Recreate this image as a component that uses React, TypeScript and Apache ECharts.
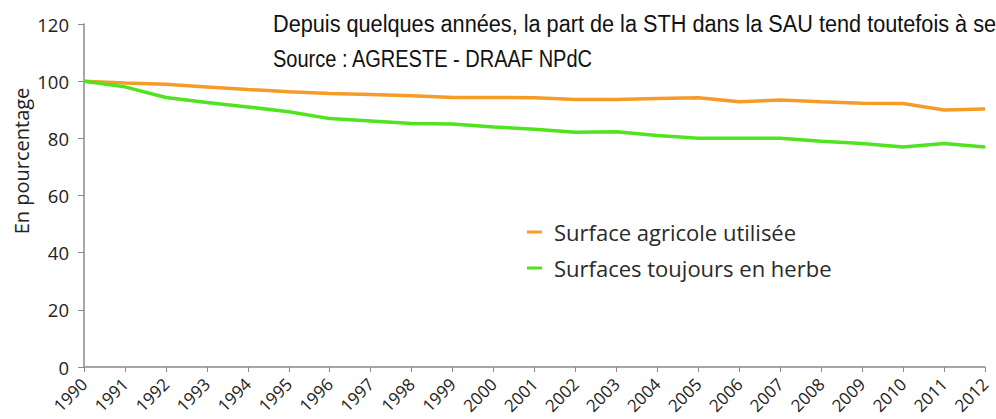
import React, { useEffect, useRef } from "react";
import * as echarts from "echarts";

const years = ["1990","1991","1992","1993","1994","1995","1996","1997","1998","1999","2000","2001","2002","2003","2004","2005","2006","2007","2008","2009","2010","2011","2012"];
const sauValues = [100, 99.4, 98.9, 98, 97.1, 96.3, 95.7, 95.3, 94.9, 94.3, 94.3, 94.2, 93.6, 93.6, 93.9, 94.2, 92.8, 93.4, 92.8, 92.3, 92.2, 89.9, 90.3];
const sthValues = [100, 98, 94.3, 92.5, 91, 89.3, 86.9, 86.1, 85.2, 85, 84, 83.2, 82.1, 82.3, 81, 80, 80, 80, 79, 78.2, 77, 78.2, 77];
const seriesNames = ["Surface agricole utilisée", "Surfaces toujours en herbe"];
const yTicks = { min: 0, max: 120, interval: 20 };
const subtitleLines = [
  "Depuis quelques années, la part de la STH dans la SAU tend toutefois à se",
  "Source : AGRESTE - DRAAF NPdC",
];
const yAxisTitle = "En pourcentage";

const ORANGE = "#f59b28";
const GREEN = "#4fe41f";
const AXIS = "#8a8a8a";
const FONT = "'Open Sans', 'Noto Sans', sans-serif";
const TITLE_FONT = "'Liberation Sans', Arial, sans-serif";

export default function App() {
  const ref = useRef<HTMLDivElement>(null);
  useEffect(() => {
    if (!ref.current) return;
    const chart = echarts.init(ref.current, undefined, { renderer: "svg" });
    chart.setOption({
      animation: false,
      backgroundColor: "#ffffff",
      grid: { left: 84, right: 11, top: 24, bottom: 52, containLabel: false, outerBoundsMode: "none" },
      xAxis: {
        type: "category",
        data: years,
        boundaryGap: false,
        axisLine: { show: true, lineStyle: { color: AXIS, width: 1.5 } },
        axisTick: { show: true, alignWithLabel: true, length: 5, lineStyle: { color: AXIS } },
        axisLabel: {
          interval: 0,
          rotate: 45,
          margin: 14,
          verticalAlign: "middle",
          fontFamily: FONT,
          fontSize: 17,
          color: "#222",
        },
        splitLine: { show: false },
      },
      yAxis: {
        type: "value",
        min: yTicks.min,
        max: yTicks.max,
        interval: yTicks.interval,
        axisLine: { show: true, lineStyle: { color: AXIS, width: 1.5 } },
        axisTick: { show: true, length: 6, lineStyle: { color: AXIS } },
        axisLabel: { margin: 15, fontFamily: FONT, fontSize: 18.5, color: "#222" },
        splitLine: { show: false },
      },
      legend: {
        orient: "vertical",
        left: 522,
        top: 213,
        icon: "rect",
        itemWidth: 15,
        itemHeight: 3,
        itemGap: 8,
        textStyle: { fontFamily: FONT, fontSize: 22, color: "#2a2a2a", lineHeight: 28, padding: [0, 0, 0, 7] },
        data: seriesNames,
      },
      graphic: [
        {
          type: "text",
          x: 273,
          y: 24,
          scaleX: 0.943,
          style: { text: subtitleLines[0], fontFamily: TITLE_FONT, fontSize: 23, fill: "#111", verticalAlign: "middle" },
        },
        {
          type: "text",
          x: 273,
          y: 59,
          scaleX: 0.87,
          style: { text: subtitleLines[1], fontFamily: TITLE_FONT, fontSize: 23, fill: "#111", verticalAlign: "middle" },
        },
        {
          type: "text",
          x: 21,
          y: 161,
          rotation: Math.PI / 2,
          style: { text: yAxisTitle, fontFamily: FONT, fontSize: 20, fill: "#222", align: "center", verticalAlign: "middle" },
        },
      ],
      series: [
        {
          name: seriesNames[0],
          type: "line",
          data: sauValues,
          symbol: "none",
          color: ORANGE,
          lineStyle: { color: ORANGE, width: 3.5 },
        },
        {
          name: seriesNames[1],
          type: "line",
          data: sthValues,
          symbol: "none",
          color: GREEN,
          lineStyle: { color: GREEN, width: 3.5 },
        },
      ],
    });
    return () => chart.dispose();
  }, []);
  return <div ref={ref} style={{ width: 996, height: 419, position: "absolute", left: 0, top: 0 }} />;
}
